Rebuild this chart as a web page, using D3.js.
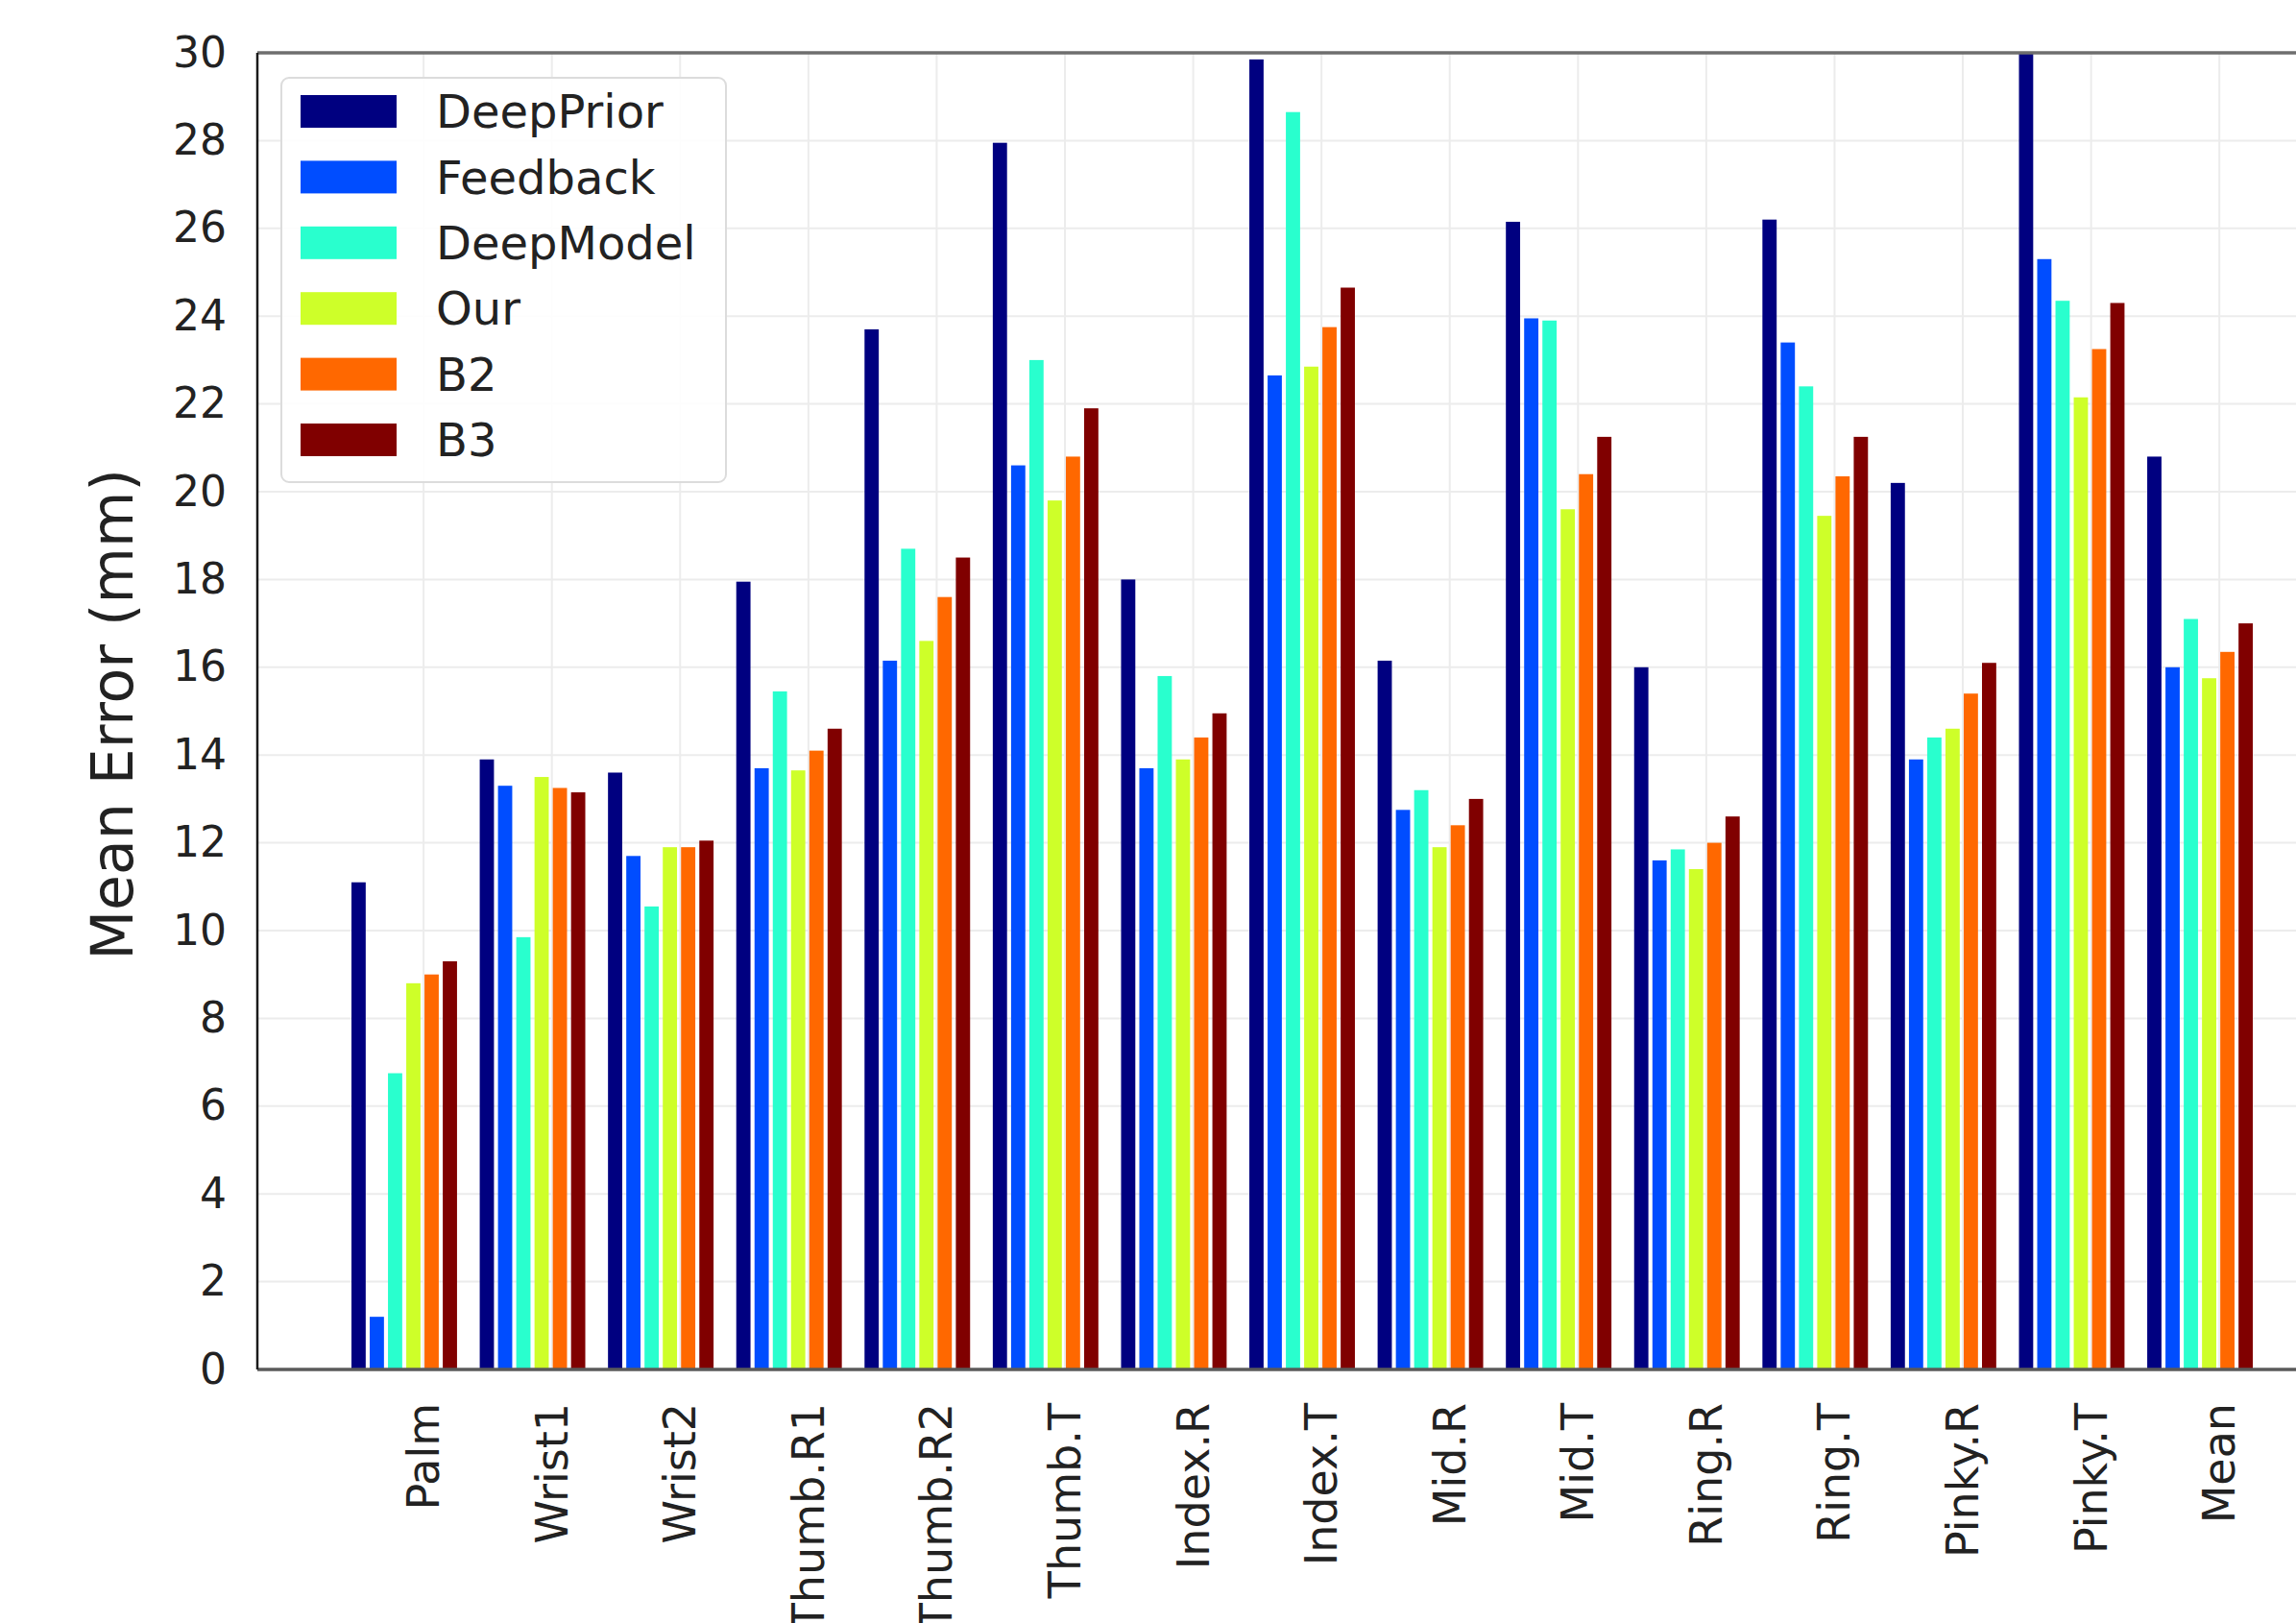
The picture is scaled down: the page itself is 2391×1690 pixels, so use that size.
<!DOCTYPE html>
<html>
<head>
<meta charset="utf-8">
<script src="https://cdn.jsdelivr.net/npm/d3@7"></script>
<style>
  body { margin: 0; background: #fff; }
  text { font-family: "DejaVu Sans", sans-serif; fill: #222; }
</style>
</head>
<body>
<div id="chart"></div>
<script>
'use strict';

const categories = ['Palm', 'Wrist1', 'Wrist2', 'Thumb.R1', 'Thumb.R2', 'Thumb.T', 'Index.R',
  'Index.T', 'Mid.R', 'Mid.T', 'Ring.R', 'Ring.T', 'Pinky.R', 'Pinky.T', 'Mean']
const seriesNames = ['DeepPrior', 'Feedback', 'DeepModel', 'Our', 'B2', 'B3']
const seriesColors = ['#000080', '#004dff', '#29ffce', '#ceff29', '#ff6800', '#800000']
const yTicks = [0, 2, 4, 6, 8, 10, 12, 14, 16, 18, 20, 22, 24, 26, 28, 30]

// one array per method, in category order
const deepPrior = [11.1, 13.9, 13.6, 17.95, 23.7, 27.95, 18.0, 29.85, 16.15, 26.15, 16.0, 26.2, 20.2, 30.6, 20.8]
const feedback  = [1.2, 13.3, 11.7, 13.7, 16.15, 20.6, 13.7, 22.65, 12.75, 23.95, 11.6, 23.4, 13.9, 25.3, 16.0]
const deepModel = [6.75, 9.85, 10.55, 15.45, 18.7, 23.0, 15.8, 28.65, 13.2, 23.9, 11.85, 22.4, 14.4, 24.35, 17.1]
const our       = [8.8, 13.5, 11.9, 13.65, 16.6, 19.8, 13.9, 22.85, 11.9, 19.6, 11.4, 19.45, 14.6, 22.15, 15.75]
const b2        = [9.0, 13.25, 11.9, 14.1, 17.6, 20.8, 14.4, 23.75, 12.4, 20.4, 12.0, 20.35, 15.4, 23.25, 16.35]
const b3        = [9.3, 13.15, 12.05, 14.6, 18.5, 21.9, 14.95, 24.65, 13.0, 21.25, 12.6, 21.25, 16.1, 24.3, 17.0]

const seriesValues = [deepPrior, feedback, deepModel, our, b2, b3]

var width = 2391, height = 1690
var plotLeft = 268, plotRight = 2443, plotTop = 55, plotBottom = 1426

var svg = d3.select('#chart').append('svg')
    .attr('width', width)
    .attr('height', height)
    .style('display', 'block')

svg.append('rect').attr('width', width).attr('height', height).attr('fill', '#fff')

svg.append('clipPath').attr('id', 'plotClip')
  .append('rect')
    .attr('x', plotLeft).attr('y', plotTop)
    .attr('width', plotRight - plotLeft).attr('height', plotBottom - plotTop)

var y = d3.scaleLinear().domain([0, 30]).range([plotBottom, plotTop])

// group positions
var x = d3.scaleBand()
    .domain(categories)
    .range([366, 2346])
    .paddingInner(0.177)
    .paddingOuter(0)

var xs = d3.scaleBand()
    .domain(seriesNames)
    .range([0, x.bandwidth()])
    .paddingInner(0.22)
    .paddingOuter(0)

// tick sits between the "Our" and "B2" bars
function tickX(c) { return x(c) + xs.step() * 3.95 }

// grid
var grid = svg.append('g')
grid.selectAll('line.h').data(yTicks).enter().append('line')
    .attr('class', 'h')
    .attr('x1', plotLeft).attr('x2', plotRight)
    .attr('y1', d => y(d)).attr('y2', d => y(d))
    .attr('stroke', '#ececec').attr('stroke-width', 2)
grid.selectAll('line.v').data(categories).enter().append('line')
    .attr('class', 'v')
    .attr('x1', d => tickX(d)).attr('x2', d => tickX(d))
    .attr('y1', plotTop).attr('y2', plotBottom)
    .attr('stroke', '#ececec').attr('stroke-width', 2)

// bars
var bars = svg.append('g').attr('clip-path', 'url(#plotClip)')
seriesNames.forEach(function(name, si) {
  bars.selectAll('rect.s' + si)
    .data(seriesValues[si])
    .enter().append('rect')
      .attr('class', 's' + si)
      .attr('x', (d, i) => x(categories[i]) + xs(name))
      .attr('width', xs.bandwidth())
      .attr('y', d => y(d))
      .attr('height', d => y(0) - y(d))
      .attr('fill', seriesColors[si])
})

// spines
svg.append('line')
    .attr('x1', plotLeft).attr('x2', plotRight).attr('y1', plotTop).attr('y2', plotTop)
    .attr('stroke', '#6e6e6e').attr('stroke-width', 3.5)
svg.append('line')
    .attr('x1', plotLeft).attr('x2', plotRight).attr('y1', plotBottom).attr('y2', plotBottom)
    .attr('stroke', '#5a5a5a').attr('stroke-width', 3.5)
svg.append('line')
    .attr('x1', plotLeft).attr('x2', plotLeft).attr('y1', plotTop).attr('y2', plotBottom)
    .attr('stroke', '#1a1a1a').attr('stroke-width', 2.5)

// y axis
var yAxis = svg.append('g')
    .attr('transform', 'translate(' + plotLeft + ',0)')
    .call(d3.axisLeft(y).tickValues(yTicks).tickSize(0).tickPadding(32))
yAxis.select('.domain').remove()
yAxis.selectAll('text')
    .style('font-size', '44px')
    .attr('fill', '#222')

// x labels, rotated
svg.append('g').selectAll('text')
  .data(categories)
  .enter().append('text')
    .attr('transform', d => 'translate(' + (tickX(d) + 16) + ',1461) rotate(-90)')
    .attr('text-anchor', 'end')
    .style('font-size', '46px')
    .text(d => d)

// y title
svg.append('text')
    .attr('transform', 'translate(138,744) rotate(-90)')
    .attr('text-anchor', 'middle')
    .style('font-size', '60px')
    .text('Mean Error (mm)')

// legend
var legend = svg.append('g')
legend.append('rect')
    .attr('x', 293).attr('y', 81)
    .attr('width', 463).attr('height', 421)
    .attr('rx', 8)
    .attr('fill', '#fff').attr('fill-opacity', 0.9)
    .attr('stroke', '#dcdcdc').attr('stroke-width', 2)

var rows = legend.selectAll('g.row')
  .data(seriesNames)
  .enter().append('g')
    .attr('class', 'row')
    .attr('transform', (d, i) => 'translate(0,' + (116 + i * 68.4) + ')')
rows.append('rect')
    .attr('x', 313).attr('y', -17)
    .attr('width', 100).attr('height', 34)
    .attr('fill', (d, i) => seriesColors[i])
rows.append('text')
    .attr('x', 454).attr('y', 0)
    .attr('dy', '0.36em')
    .style('font-size', '48px')
    .text(d => d)
</script>
</body>
</html>
